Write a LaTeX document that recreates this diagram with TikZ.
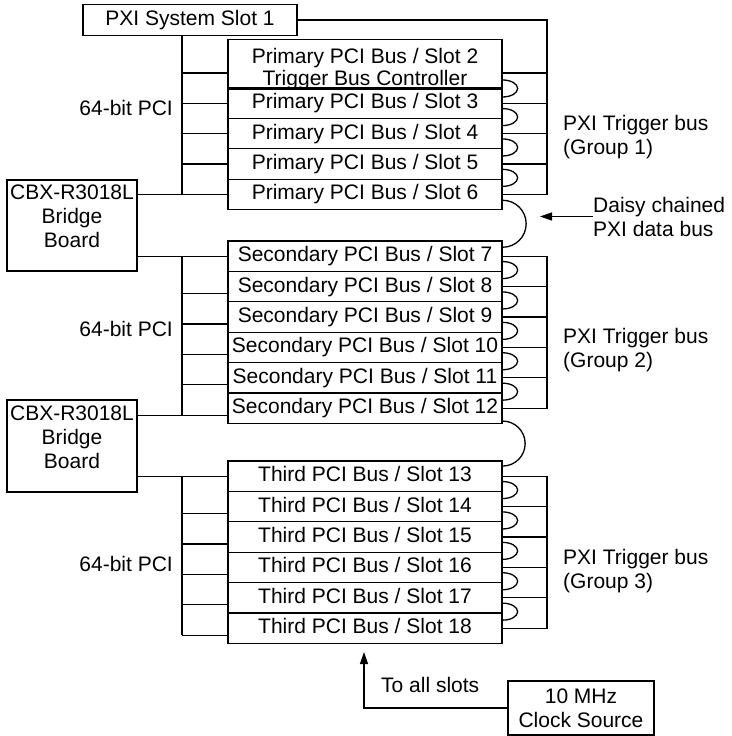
\documentclass[tikz,border=0pt]{standalone}
\usepackage{fontspec}
\setmainfont{Liberation Sans}
\usepackage{xcolor}
\usepackage{tikz}
\usetikzlibrary{arrows.meta}
\definecolor{ink}{HTML}{000000}
\definecolor{paper}{HTML}{FFFFFF}
\tikzset{
  box/.style={draw=ink, line width=1.3pt, rectangle, inner sep=0pt, font=\fontsize{21}{24}\selectfont},
  slot/.style={box, minimum width=274pt, minimum height=30.4pt},
  row/.style={slot, text height=15.3pt, text depth=4.4pt},
  wire/.style={draw=ink, line width=1.3pt},
  arr/.style={wire, -{Triangle[length=12pt,width=8pt]}},
  lab/.style={text=ink, inner sep=0pt, font=\fontsize{21}{24}\selectfont},
}

\begin{document}
\begin{tikzpicture}[x=1pt,y=-1pt]
  \path[use as bounding box, fill=paper] (0,0) rectangle (731,736);
  \coordinate (xL) at (182,0);
  \coordinate (xR) at (547,0);
  \node[row, minimum width=214pt] (s1) at (190,20) {PXI System Slot 1};
  \node[slot, minimum height=47pt, align=center, font=\fontsize{21}{22}\selectfont] (s2) at (365,64.5)
    {\rule{0pt}{24.3pt}Primary PCI Bus / Slot 2\\Trigger Bus Controller};
  \foreach \i in {3,...,6}
    \node[row] (s\i) at (365,{88+(\i-2.5)*30.4}) {Primary PCI Bus / Slot \i};
  \foreach \i in {7,...,12}
    \node[row] (s\i) at (365,{241+(\i-6.5)*30.4}) {Secondary PCI Bus / Slot \i};
  \foreach \i in {13,...,18}
    \node[row] (s\i) at (365,{461+(\i-12.5)*30.4}) {Third PCI Bus / Slot \i};
  \node[box, minimum width=130pt, minimum height=91pt, align=center] (br1) at (72,225.5)
    {CBX-R3018L\\Bridge\\Board\rule[-18pt]{0pt}{18pt}};
  \node[box, minimum width=130pt, minimum height=92pt, align=center] (br2) at (72,446)
    {CBX-R3018L\\Bridge\\Board\rule[-18pt]{0pt}{18pt}};
  \node[box, minimum width=146pt, minimum height=54pt, align=center] (clk) at (581,708)
    {10 MHz\\Clock Source};

  \foreach \g/\y in {1/115,2/336,3/571.5}
    \node[lab, anchor=base east] (pci\g) at (173,\y) {64-bit PCI};
  \foreach \g/\y in {1/137.4,2/350.5,3/571.5}
    \node[lab, anchor=west, align=left] (trg\g) at (563,\y) {PXI Trigger bus\\(Group \g)};
  \node[lab, anchor=west, align=left] (daisy) at (593,216.5) {Daisy chained\\PXI data bus};
  \node[lab, anchor=base west] (toall) at (381,692.7) {To all slots};

  % bus taps
  \coordinate (l2) at ([yshift=-8.5pt]s2.west);
  \coordinate (r2) at ([yshift=-8.5pt]s2.east);
  \foreach \i in {3,...,7,13}
    \coordinate (l\i) at (s\i.west);
  \foreach \i in {8,9,10,11,12,14,15,16,17,18}
    \coordinate (l\i) at ([yshift=-7pt]s\i.west);
  \foreach \i in {3,...,18}
    \coordinate (r\i) at (s\i.east);

  % 64-bit PCI
  \draw[wire] (s1.south -| xL) -- (xL |- l6);
  \draw[wire] (xL |- l7) -- (xL |- l12);
  \draw[wire] (xL |- l13) -- (xL |- l18);
  \foreach \i in {2,3,4,5,8,9,10,11,14,15,16,17,18}
    \draw[wire] (xL |- l\i) -- (l\i);
  \draw[wire] (br1.east |- l6) -- (l6);
  \draw[wire] (br1.east |- l7) -- (l7);
  \draw[wire] (br2.east |- l12) -- (l12);
  \draw[wire] (br2.east |- l13) -- (l13);

  % trigger bus
  \draw[wire] (s1.east) -- (xR |- s1.east) -- (xR |- r6) -- (r6);
  \draw[wire] (r7) -- (xR |- r7) -- (xR |- r12) -- (r12);
  \draw[wire] (r13) -- (xR |- r13) -- (xR |- r18) -- (r18);
  \foreach \i in {2,3,4,5,8,9,10,11,14,15,16,17}
    \draw[wire] (r\i) -- (xR |- r\i);
  \foreach \i in {2,3,4,5,7,8,9,10,11,13,14,15,16,17}
    \draw[wire] ([yshift=10.5pt]s\i.south east) arc[start angle=90, end angle=-90, x radius=15pt, y radius=8.5pt];

  % data bus
  \draw[wire] ([yshift=10pt]s6.south east) arc[start angle=90, end angle=-90, radius=23.5pt];
  \draw[wire] ([yshift=3pt]s12.south east) arc[start angle=90, end angle=-90, radius=22.5pt];
  \coordinate (dztip) at (540,216.5);
  \draw[arr] (daisy.west) -- (dztip);
  \coordinate (clktip) at (364,652);
  \draw[arr] (clk.west) -| (clktip);
\end{tikzpicture}
\end{document}
